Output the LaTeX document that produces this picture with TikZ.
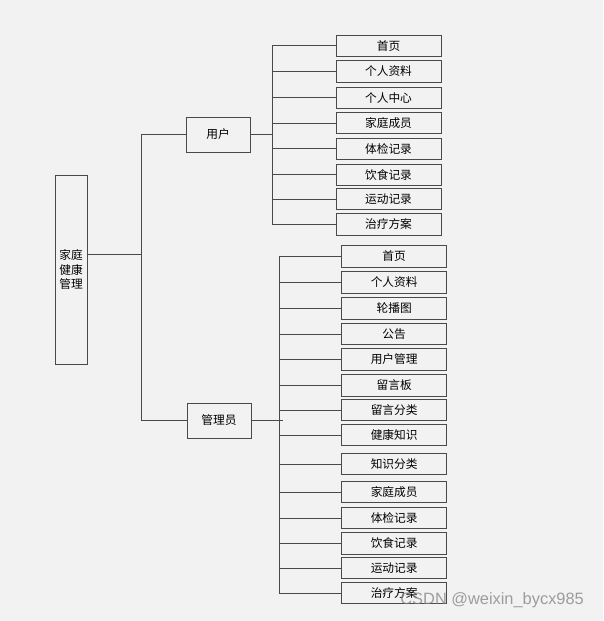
\documentclass[tikz,border=0pt]{standalone}
\usepackage{fontspec}
\newfontfamily\cjk{Noto Sans CJK SC}
\newfontfamily\wmfont{Liberation Sans}
\usetikzlibrary{positioning, calc}
\definecolor{bgfill}{HTML}{F2F2F2}
\definecolor{linec}{HTML}{4A4A4A}

\begin{document}
\begin{tikzpicture}[
    x=0.03cm, y=-0.03cm,
    box/.style={draw=linec, line width=0.6pt, inner sep=0pt,
                font=\cjk\fontsize{10}{12}\selectfont},
    leaf/.style={box, minimum width=3.15cm, minimum height=0.64cm},
    mid/.style={box, minimum width=1.92cm, minimum height=1.05cm},
    conn/.style={draw=linec, line width=0.6pt}
  ]
  \useasboundingbox[fill=bgfill] (0,0) rectangle (603,621);

  % Root and the two roles
  \node[box, minimum width=0.96cm, minimum height=5.67cm, align=center]
    (root) at (71,269.5) {家庭\\[0pt]健康\\[0pt]管理};
  \node[mid] (user) at (218,134.5) {用户};
  \node[mid] (admin) at (219,420.5) {管理员};

  \coordinate (t0) at (141,254);
  \draw[conn] ($(root.east)+(0,-15.5)$) -- (t0);
  \draw[conn] (t0) |- (user.west);
  \draw[conn] (t0) |- (admin.west);

  % User pages
  \coordinate (ut) at (272,134.5);
  \draw[conn] (user.east) -- (ut);
  \foreach \y/\txt [count=\i] in {45.7/首页, 71.5/个人资料, 97.7/个人中心,
      123/家庭成员, 148.7/体检记录, 174.7/饮食记录, 199/运动记录,
      224.5/治疗方案} {
    \node[leaf] (u\i) at (388.5,\y) {\txt};
    \draw[conn] (ut) |- (u\i.west);
  }

  % Admin pages
  \coordinate (at) at (279,420.5);
  \draw[conn] (admin.east) -- ($(at)+(4,0)$);
  \foreach \y/\txt [count=\i] in {256.5/首页, 282.5/个人资料, 308.5/轮播图,
      334/公告, 359.5/用户管理, 385.5/留言板, 410/留言分类, 435/健康知识,
      464/知识分类, 492/家庭成员, 518/体检记录, 543.5/饮食记录,
      568/运动记录, 593/治疗方案} {
    \node[leaf] (a\i) at (394.2,\y) {\txt};
    \draw[conn] (at) |- (a\i.west);
  }

  % Watermark
  \node[font=\wmfont\fontsize{14}{16}\selectfont, text=gray,
        opacity=0.75, anchor=east] (wm) at (588,600) {CSDN @weixin\_bycx985};
\end{tikzpicture}
\end{document}
